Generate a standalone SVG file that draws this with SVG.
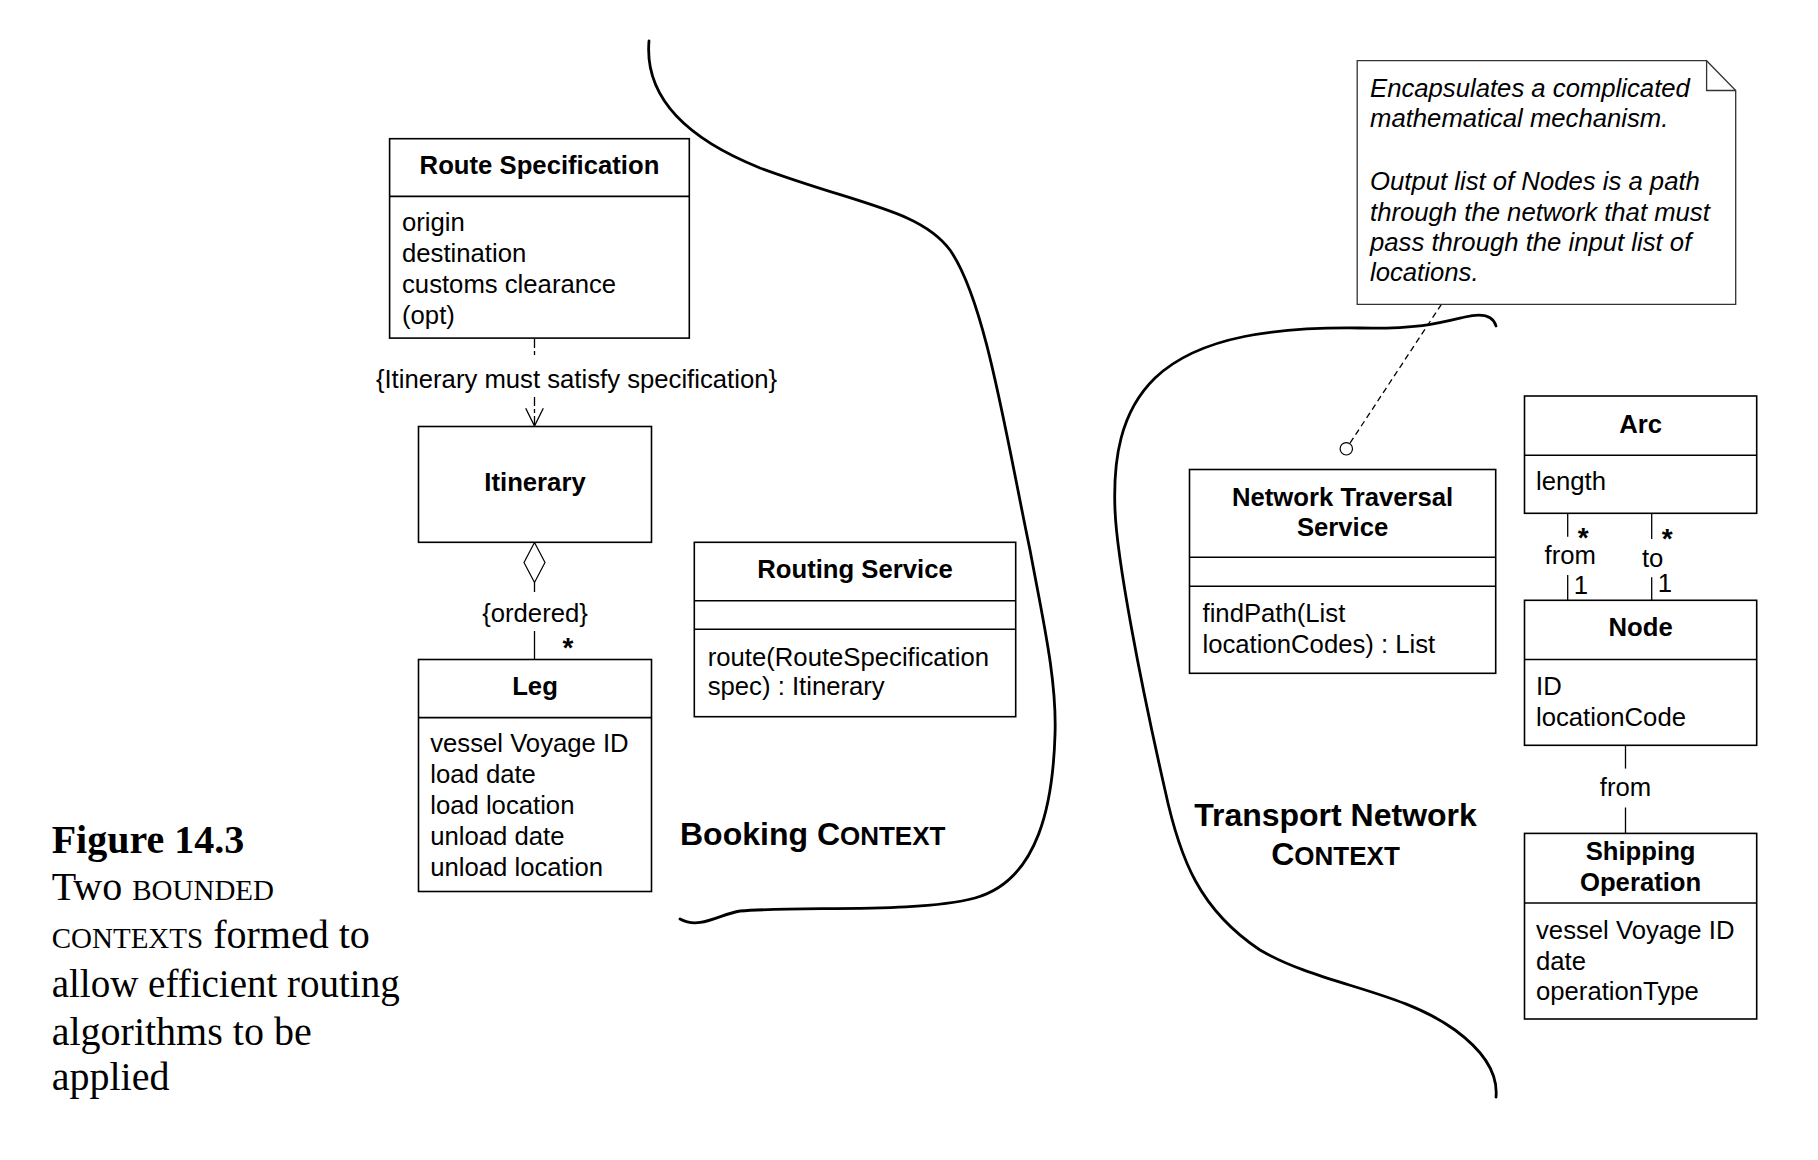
<svg xmlns="http://www.w3.org/2000/svg" width="1818" height="1160" viewBox="0 0 1818 1160">
<style>
  .box { fill: #fff; stroke: #000; stroke-width: 1.6; }
  .div { stroke: #000; stroke-width: 1.6; fill: none; }
  .t { font-family: "Liberation Sans", Arial, sans-serif; font-size: 25.7px; fill: #000; }
  .b { font-weight: bold; }
  .mid { text-anchor: middle; }
  .it { font-style: italic; }
  .star { font-family: "Liberation Sans", Arial, sans-serif; font-size: 28px; font-weight: bold; fill: #000; text-anchor: middle; }
  .ctx { font-family: "Liberation Sans", Arial, sans-serif; font-size: 32px; font-weight: bold; fill: #000; }
  .sc { font-size: 26px; }
  .line { stroke: #000; stroke-width: 1.3; fill: none; }
  .bound { stroke: #000; stroke-width: 2.8; fill: none; stroke-linecap: round; }
  .cap { font-family: "Liberation Serif", "Times New Roman", serif; font-size: 40px; fill: #000; }
  .capsc { font-size: 29px; }
</style>

<!-- Context boundaries -->
<g id="boundaries">
  <path class="bound" d="M 649,41 C 644,100 690,140 760,168 C 860,205 920,210 950,250 C 985,300 1005,430 1030,550 C 1043,620 1057,680 1055,735 C 1053,800 1040,880 975,898 C 920,913 800,906 740,911 C 720,914 700,930 680,919"/>
  <path class="bound" d="M 1496,326 C 1493,315 1482,313 1465,317 C 1440,323 1420,329 1360,328 C 1280,327 1200,335 1155,378 C 1120,412 1113,460 1115,510 C 1117,560 1140,680 1165,790 C 1180,860 1200,910 1260,950 C 1320,985 1400,990 1455,1030 C 1485,1052 1498,1075 1496,1097"/>
</g>

<!-- Context labels -->
<g id="booking-context">
  <text class="ctx" x="680" y="845">Booking C<tspan class="sc">ONTEXT</tspan></text>
</g>
<g id="transport-context">
  <text class="ctx" x="1335.5" y="826.3" text-anchor="middle">Transport Network</text>
  <text class="ctx" x="1335.5" y="865" text-anchor="middle">C<tspan class="sc">ONTEXT</tspan></text>
</g>

<!-- Connectors -->
<g id="connectors">
  <!-- dependency Route Specification -> Itinerary -->
  <line class="line" x1="534.5" y1="339" x2="534.5" y2="357" stroke-width="1" stroke-dasharray="9 3 4 3"/>
  <line class="line" x1="534.5" y1="397" x2="534.5" y2="425" stroke-width="1" stroke-dasharray="9 3 4 3"/>
  <polyline class="line" stroke-width="1.1" points="525.7,408.3 534.5,426 543.3,408.3"/>
  <text class="t mid" x="576.5" y="388">{Itinerary must satisfy specification}</text>

  <!-- aggregation Itinerary <>- Leg -->
  <polygon points="534.5,542.5 545,562.5 534.5,582.5 524,562.5" fill="#fff" stroke="#000" stroke-width="1.2"/>
  <line class="line" x1="534.5" y1="582.5" x2="534.5" y2="592"/>
  <line class="line" x1="534.5" y1="631" x2="534.5" y2="659.5"/>
  <text class="t mid" x="535" y="621.5">{ordered}</text>
  <text class="star" x="568" y="657">*</text>

  <!-- note attachment -->
  <line class="line" x1="1441.4" y1="304.3" x2="1349.7" y2="443.6" stroke-width="1" stroke-dasharray="6 4"/>
  <circle cx="1346.3" cy="448.8" r="6.2" fill="#fff" stroke="#000" stroke-width="1.2"/>

  <!-- Arc - Node (from) -->
  <line class="line" x1="1567.7" y1="513.3" x2="1567.7" y2="536.7"/>
  <line class="line" x1="1567.7" y1="575" x2="1567.7" y2="600.3"/>
  <text class="star" x="1583.3" y="547">*</text>
  <text class="t mid" x="1570.3" y="564.3">from</text>
  <text class="t mid" x="1581" y="594">1</text>

  <!-- Arc - Node (to) -->
  <line class="line" x1="1651.7" y1="513.3" x2="1651.7" y2="539"/>
  <line class="line" x1="1651.7" y1="577.3" x2="1651.7" y2="600.3"/>
  <text class="star" x="1667.3" y="548">*</text>
  <text class="t mid" x="1652.7" y="567.3">to</text>
  <text class="t mid" x="1665" y="592">1</text>

  <!-- Node - Shipping Operation -->
  <line class="line" x1="1625.5" y1="745.3" x2="1625.5" y2="768.6"/>
  <line class="line" x1="1625.5" y1="807.5" x2="1625.5" y2="833.4"/>
  <text class="t mid" x="1625.5" y="796.4">from</text>
</g>

<!-- Nodes -->
<g id="route-specification">
  <rect class="box" x="389.6" y="138.7" width="299.7" height="199.4"/>
  <line class="div" x1="389.6" y1="196.4" x2="689.3" y2="196.4"/>
  <text class="t b mid" x="539.5" y="174">Route Specification</text>
  <text class="t" x="402" y="231">origin</text>
  <text class="t" x="402" y="262">destination</text>
  <text class="t" x="402" y="293">customs clearance</text>
  <text class="t" x="402" y="324">(opt)</text>
</g>

<g id="itinerary">
  <rect class="box" x="418.5" y="426.5" width="233" height="115.8"/>
  <text class="t b mid" x="535" y="490.5">Itinerary</text>
</g>

<g id="leg">
  <rect class="box" x="418.5" y="659.5" width="233" height="232"/>
  <line class="div" x1="418.5" y1="717.6" x2="651.5" y2="717.6"/>
  <text class="t b mid" x="535" y="694.7">Leg</text>
  <text class="t" x="430.2" y="752">vessel Voyage ID</text>
  <text class="t" x="430.2" y="783">load date</text>
  <text class="t" x="430.2" y="814">load location</text>
  <text class="t" x="430.2" y="845">unload date</text>
  <text class="t" x="430.2" y="876">unload location</text>
</g>

<g id="routing-service">
  <rect class="box" x="694.3" y="542.3" width="321.4" height="174.4"/>
  <line class="div" x1="694.3" y1="600.7" x2="1015.7" y2="600.7"/>
  <line class="div" x1="694.3" y1="629.3" x2="1015.7" y2="629.3"/>
  <text class="t b mid" x="855" y="578.3">Routing Service</text>
  <text class="t" x="707.7" y="666">route(RouteSpecification</text>
  <text class="t" x="707.7" y="695">spec) : Itinerary</text>
</g>

<g id="note">
  <path d="M 1357.2,60.7 H 1706.6 L 1735.7,90.5 V 304.3 H 1357.2 Z" fill="#fff" stroke="#333" stroke-width="1.3"/>
  <path d="M 1706.6,60.7 V 90.5 H 1735.7" fill="none" stroke="#333" stroke-width="1.3"/>
  <text class="t it" x="1370" y="96.7">Encapsulates a complicated</text>
  <text class="t it" x="1370" y="127.3">mathematical mechanism.</text>
  <text class="t it" x="1370" y="190">Output list of Nodes is a path</text>
  <text class="t it" x="1370" y="220.7">through the network that must</text>
  <text class="t it" x="1370" y="250.7">pass through the input list of</text>
  <text class="t it" x="1370" y="281">locations.</text>
</g>

<g id="network-traversal-service">
  <rect class="box" x="1189.5" y="469.5" width="306.2" height="203.8"/>
  <line class="div" x1="1189.5" y1="557.2" x2="1495.7" y2="557.2"/>
  <line class="div" x1="1189.5" y1="586.3" x2="1495.7" y2="586.3"/>
  <text class="t b mid" x="1342.6" y="505.5">Network Traversal</text>
  <text class="t b mid" x="1342.6" y="536">Service</text>
  <text class="t" x="1202.5" y="622">findPath(List</text>
  <text class="t" x="1202.5" y="652.5">locationCodes) : List</text>
</g>

<g id="arc">
  <rect class="box" x="1524.5" y="396" width="232.2" height="117.3"/>
  <line class="div" x1="1524.5" y1="455.3" x2="1756.7" y2="455.3"/>
  <text class="t b mid" x="1640.6" y="432.7">Arc</text>
  <text class="t" x="1536" y="490">length</text>
</g>

<g id="node">
  <rect class="box" x="1524.5" y="600.3" width="232.2" height="145"/>
  <line class="div" x1="1524.5" y1="659.5" x2="1756.7" y2="659.5"/>
  <text class="t b mid" x="1640.6" y="636">Node</text>
  <text class="t" x="1536" y="694.7">ID</text>
  <text class="t" x="1536" y="726">locationCode</text>
</g>

<g id="shipping-operation">
  <rect class="box" x="1524.5" y="833.4" width="232.2" height="185.6"/>
  <line class="div" x1="1524.5" y1="903" x2="1756.7" y2="903"/>
  <text class="t b mid" x="1640.6" y="860.4">Shipping</text>
  <text class="t b mid" x="1640.6" y="890.7">Operation</text>
  <text class="t" x="1536" y="939">vessel Voyage ID</text>
  <text class="t" x="1536" y="970">date</text>
  <text class="t" x="1536" y="1000">operationType</text>
</g>

<!-- Caption -->
<g id="caption">
  <text class="cap" x="51.7" y="853.3" font-weight="bold" font-size="41">Figure 14.3</text>
  <text class="cap" x="51.7" y="900">Two <tspan class="capsc">BOUNDED</tspan></text>
  <text class="cap" x="51.7" y="948.3"><tspan class="capsc">CONTEXTS</tspan> formed to</text>
  <text class="cap" x="51.7" y="996.7" textLength="348" lengthAdjust="spacingAndGlyphs">allow efficient routing</text>
  <text class="cap" x="51.7" y="1045">algorithms to be</text>
  <text class="cap" x="51.7" y="1090">applied</text>
</g>
</svg>
